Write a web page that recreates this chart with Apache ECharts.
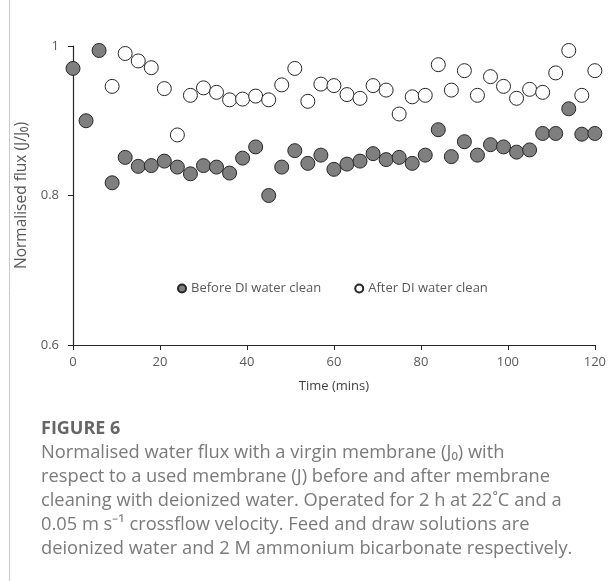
<!DOCTYPE html>
<html>
<head>
<meta charset="utf-8">
<script src="https://cdn.jsdelivr.net/npm/echarts@6/dist/echarts.min.js"></script>
<style>
html,body{margin:0;padding:0;background:#fff;}
#chart{width:609px;height:581px;}
</style>
</head>
<body>
<div id="chart"></div>
<script>
// Data
var beforeTimes = [0,3,6,9,12,15,18,21,24,27,30,33,36,39,42,45,48,51,54,57,60,63,66,69,72,75,78,81,84,87,90,93,96,99,102,105,108,111,114,117,120];
var beforeValues = [0.970,0.900,0.994,0.817,0.851,0.839,0.840,0.846,0.838,0.829,0.840,0.838,0.830,0.850,0.865,0.800,0.838,0.860,0.843,0.854,0.835,0.842,0.846,0.856,0.848,0.851,0.843,0.854,0.888,0.852,0.872,0.854,0.868,0.865,0.858,0.861,0.883,0.883,0.916,0.882,0.883];
var afterTimes = [9,12,15,18,21,24,27,30,33,36,39,42,45,48,51,54,57,60,63,66,69,72,75,78,81,84,87,90,93,96,99,102,105,108,111,114,117,120];
var afterValues = [0.946,0.990,0.980,0.971,0.943,0.881,0.934,0.944,0.938,0.928,0.929,0.933,0.928,0.948,0.970,0.926,0.949,0.947,0.935,0.930,0.947,0.941,0.909,0.932,0.934,0.975,0.941,0.967,0.934,0.959,0.946,0.930,0.942,0.938,0.964,0.994,0.934,0.967];
var seriesNames = ['Before DI water clean','After DI water clean'];
var xTicks = {min:0, max:120, interval:20};
var yTicks = {min:0.6, max:1, interval:0.2};
var captionTitle = 'FIGURE 6';
var captionLines = [
  'Normalised water flux with a virgin membrane (J\u2080) with',
  'respect to a used membrane (J) before and after membrane',
  'cleaning with deionized water. Operated for 2 h at 22\u02daC and a',
  '0.05 m s\u207B\u00B9 crossflow velocity. Feed and draw solutions are',
  'deionized water and 2 M ammonium bicarbonate respectively.'
];

function pairs(xs, ys){ return xs.map(function(x,i){ return [x, ys[i]]; }); }

var chart = echarts.init(document.getElementById('chart'), null, {renderer:'canvas'});
var font = 'Open Sans';
var graphics = [
  {type:'line', shape:{x1:9.5,y1:0,x2:9.5,y2:581}, style:{stroke:'#c8c8c8', lineWidth:1}, silent:true},
  {type:'text', x:41, y:429, style:{text:captionTitle, font:'bold 18px "Open Sans"', fill:'#666666', verticalAlign:'middle'}}
];
captionLines.forEach(function(t,i){
  graphics.push({type:'text', x:41, y:453 + i*24, style:{text:t, font:'18.3px "Open Sans"', fill:'#7a7a7a', verticalAlign:'middle'}});
});

chart.setOption({
  animation:false,
  textStyle:{fontFamily:font},
  grid:{left:73, right:11, top:46, bottom:236},
  legend:{
    left:172, top:277, itemWidth:8, itemHeight:8, itemGap:33,
    textStyle:{fontSize:13, color:'#595959', fontFamily:font},
    data:seriesNames.map(function(n){return {name:n, icon:'circle'};})
  },
  xAxis:{
    type:'value', min:xTicks.min, max:xTicks.max, interval:xTicks.interval,
    name:'Time (mins)', nameLocation:'middle', nameGap:35,
    nameTextStyle:{fontSize:13, color:'#404040', fontFamily:font},
    axisLine:{lineStyle:{color:'#262626', width:1.2}},
    axisTick:{show:true, length:5, lineStyle:{color:'#262626'}},
    axisLabel:{fontSize:13, color:'#595959', margin:11},
    splitLine:{show:false}
  },
  yAxis:{
    type:'value', min:yTicks.min, max:yTicks.max, interval:yTicks.interval,
    name:'Normalised flux (J/J\u2080)', nameLocation:'middle', nameGap:32,
    nameTextStyle:{fontSize:15.5, color:'#595959', fontFamily:font},
    axisLine:{show:true, lineStyle:{color:'#262626', width:1.2}},
    axisTick:{show:true, length:5, lineStyle:{color:'#262626'}},
    axisLabel:{fontSize:13, color:'#595959', margin:14, formatter:function(v){return String(Math.round(v*10)/10);}},
    splitLine:{show:false}
  },
  series:[
    {name:seriesNames[0], type:'scatter', symbol:'circle', symbolSize:14, clip:false,
     itemStyle:{color:'#7f7f7f', borderColor:'#262626', borderWidth:1, opacity:1},
     data:pairs(beforeTimes, beforeValues)},
    {name:seriesNames[1], type:'scatter', symbol:'circle', symbolSize:14, clip:false,
     itemStyle:{color:'#ffffff', borderColor:'#262626', borderWidth:1, opacity:1},
     data:pairs(afterTimes, afterValues)}
  ],
  graphic:graphics
});
</script>
</body>
</html>
